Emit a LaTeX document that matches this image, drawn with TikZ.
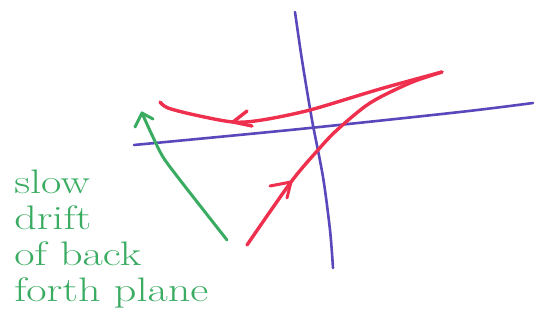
\documentclass[tikz,border=0pt]{standalone}
\usepackage{xcolor}
\usepackage{tikz}
\definecolor{penRed}{RGB}{238,48,78}
\definecolor{penBlue}{RGB}{88,72,188}
\definecolor{penGreen}{RGB}{58,172,98}

\begin{document}
\begin{tikzpicture}[x=1pt,y=-1pt,line cap=round,line join=round]
\useasboundingbox (0,0) rectangle (535,326);

% the two axes
\draw[penBlue, line width=2.6pt] plot[smooth] coordinates {(295,12) (302,60) (312,120) (323,177) (330,230) (333,268)};
\draw[penBlue, line width=2.6pt] plot[smooth] coordinates {(134,145) (300,129) (460,112) (533,103)};

% red paths with their heads
\coordinate (backTip) at (233,122);
\coordinate (forthTip) at (291,182);
\draw[penRed, line width=3.4pt] plot[smooth] coordinates {(442,72) (380,89) (310,110) (262,120) (233,122) (195,115) (168,108) (160,102)};
\draw[penRed, line width=3.4pt] (247,111) -- (backTip) -- (252,126);
\draw[penRed, line width=3.4pt] plot[smooth] coordinates {(247,245) (291,182) (318,150) (337,130) (370,103) (410,83) (442,72)};
\draw[penRed, line width=3pt] (270,186) -- (forthTip) -- (287,198);

% green drift arrow
\coordinate (driftTip) at (142,113);
\draw[penGreen, line width=3pt] plot[smooth] coordinates {(227,240) (205,212) (180,180) (163,157) (152,135) (142,113)};
\draw[penGreen, line width=3pt] (135,127) -- (driftTip) -- (153,119);

\node[text=penGreen, anchor=north west, align=left, inner sep=0pt, xscale=1.3, transform shape, font=\fontsize{34}{36}\selectfont] (drift) at (14,170) {slow\\drift\\of back\\forth plane};
\end{tikzpicture}
\end{document}
